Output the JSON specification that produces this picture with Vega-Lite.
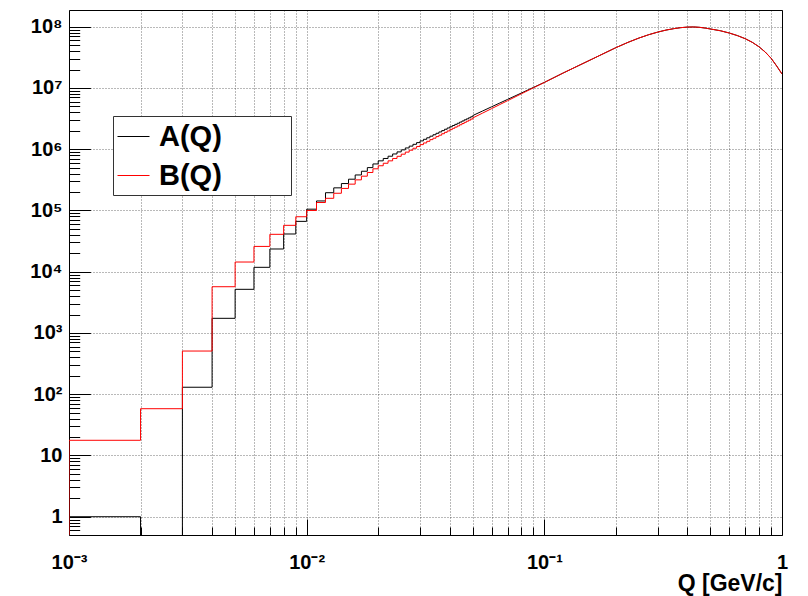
{
  "$schema": "https://vega.github.io/schema/vega-lite/v6.json",
  "width": 713,
  "height": 525,
  "autosize": {"type": "none"},
  "padding": {"left": 69, "top": 10, "right": 26, "bottom": 61},
  "background": "white",
  "config": {"view": {"stroke": "#000000", "strokeWidth": 1}, "font": "Liberation Sans"},
  "datasets": {
    "steps": [
      {"q": 0.0005, "A(Q)": 0.01, "B(Q)": 0.01},
      {"q": 0.001, "A(Q)": 1, "B(Q)": 17.7},
      {"q": 0.002, "A(Q)": 0.01, "B(Q)": 58},
      {"q": 0.003, "A(Q)": 130, "B(Q)": 507},
      {"q": 0.004, "A(Q)": 1735, "B(Q)": 5690},
      {"q": 0.005, "A(Q)": 5160, "B(Q)": 14400},
      {"q": 0.006, "A(Q)": 11800, "B(Q)": 25900},
      {"q": 0.007, "A(Q)": 23500, "B(Q)": 40800},
      {"q": 0.008, "A(Q)": 41300, "B(Q)": 57200},
      {"q": 0.009, "A(Q)": 66400, "B(Q)": 79000},
      {"q": 0.010, "A(Q)": 105000, "B(Q)": 100000},
      {"q": 0.011, "A(Q)": 143000, "B(Q)": 135000},
      {"q": 0.012, "A(Q)": 195000, "B(Q)": 158000},
      {"q": 0.013, "A(Q)": 234000, "B(Q)": 191000},
      {"q": 0.014, "A(Q)": 275000, "B(Q)": 229000},
      {"q": 0.015, "A(Q)": 324000, "B(Q)": 269000},
      {"q": 0.016, "A(Q)": 380000, "B(Q)": 316000},
      {"q": 0.017, "A(Q)": 437000, "B(Q)": 363000},
      {"q": 0.018, "A(Q)": 501000, "B(Q)": 417000},
      {"q": 0.019, "A(Q)": 575000, "B(Q)": 479000},
      {"q": 0.020, "A(Q)": 646000, "B(Q)": 537000},
      {"q": 0.021, "A(Q)": 706000, "B(Q)": 590000},
      {"q": 0.022, "A(Q)": 769000, "B(Q)": 646000},
      {"q": 0.023, "A(Q)": 837000, "B(Q)": 706000},
      {"q": 0.024, "A(Q)": 904000, "B(Q)": 766000},
      {"q": 0.025, "A(Q)": 976000, "B(Q)": 830000},
      {"q": 0.026, "A(Q)": 1049000, "B(Q)": 897000},
      {"q": 0.027, "A(Q)": 1124000, "B(Q)": 964000},
      {"q": 0.028, "A(Q)": 1202000, "B(Q)": 1037000},
      {"q": 0.029, "A(Q)": 1282000, "B(Q)": 1109000},
      {"q": 0.030, "A(Q)": 1367000, "B(Q)": 1189000},
      {"q": 0.031, "A(Q)": 1452000, "B(Q)": 1265000},
      {"q": 0.032, "A(Q)": 1538000, "B(Q)": 1346000},
      {"q": 0.033, "A(Q)": 1633000, "B(Q)": 1435000},
      {"q": 0.034, "A(Q)": 1722000, "B(Q)": 1514000},
      {"q": 0.035, "A(Q)": 1820000, "B(Q)": 1607000},
      {"q": 0.036, "A(Q)": 1914000, "B(Q)": 1694000},
      {"q": 0.037, "A(Q)": 2014000, "B(Q)": 1791000},
      {"q": 0.038, "A(Q)": 2118000, "B(Q)": 1888000},
      {"q": 0.039, "A(Q)": 2223000, "B(Q)": 1986000},
      {"q": 0.040, "A(Q)": 2328000, "B(Q)": 2089000},
      {"q": 0.041, "A(Q)": 2438000, "B(Q)": 2193000},
      {"q": 0.042, "A(Q)": 2547000, "B(Q)": 2296000},
      {"q": 0.043, "A(Q)": 2655000, "B(Q)": 2399000},
      {"q": 0.044, "A(Q)": 2773000, "B(Q)": 2512000},
      {"q": 0.045, "A(Q)": 2891000, "B(Q)": 2624000},
      {"q": 0.046, "A(Q)": 3020000, "B(Q)": 2748000},
      {"q": 0.047, "A(Q)": 3133000, "B(Q)": 2864000},
      {"q": 0.048, "A(Q)": 3258000, "B(Q)": 2979000},
      {"q": 0.049, "A(Q)": 3388000, "B(Q)": 3105000},
      {"q": 0.050, "A(Q)": 3550000, "B(Q)": 3240000}
    ],
    "smooth": [
      {"q": 0.05, "A(Q)": 3550000, "B(Q)": 3240000},
      {"q": 0.055, "A(Q)": 4210000, "B(Q)": 3890000},
      {"q": 0.06, "A(Q)": 4930000, "B(Q)": 4600000},
      {"q": 0.065, "A(Q)": 5690000, "B(Q)": 5370000},
      {"q": 0.07, "A(Q)": 6500000, "B(Q)": 6190000},
      {"q": 0.08, "A(Q)": 8260000, "B(Q)": 8020000},
      {"q": 0.09, "A(Q)": 10210000, "B(Q)": 10070000},
      {"q": 0.1, "A(Q)": 12330000, "B(Q)": 12300000},
      {"q": 0.12, "A(Q)": 17540000, "B(Q)": 17540000},
      {"q": 0.14, "A(Q)": 23390000, "B(Q)": 23390000},
      {"q": 0.16, "A(Q)": 29990000, "B(Q)": 29990000},
      {"q": 0.18, "A(Q)": 37410000, "B(Q)": 37410000},
      {"q": 0.2, "A(Q)": 45500000, "B(Q)": 45500000},
      {"q": 0.225, "A(Q)": 55600000, "B(Q)": 55600000},
      {"q": 0.25, "A(Q)": 65300000, "B(Q)": 65300000},
      {"q": 0.275, "A(Q)": 74100000, "B(Q)": 74100000},
      {"q": 0.3, "A(Q)": 81700000, "B(Q)": 81700000},
      {"q": 0.325, "A(Q)": 88100000, "B(Q)": 88100000},
      {"q": 0.35, "A(Q)": 92900000, "B(Q)": 92900000},
      {"q": 0.375, "A(Q)": 96600000, "B(Q)": 96600000},
      {"q": 0.4, "A(Q)": 98600000, "B(Q)": 98600000},
      {"q": 0.425, "A(Q)": 99100000, "B(Q)": 99100000},
      {"q": 0.45, "A(Q)": 97700000, "B(Q)": 97700000},
      {"q": 0.475, "A(Q)": 95100000, "B(Q)": 95100000},
      {"q": 0.5, "A(Q)": 91800000, "B(Q)": 91800000},
      {"q": 0.55, "A(Q)": 86000000, "B(Q)": 86000000},
      {"q": 0.6, "A(Q)": 78900000, "B(Q)": 78900000},
      {"q": 0.65, "A(Q)": 71500000, "B(Q)": 71500000},
      {"q": 0.7, "A(Q)": 63800000, "B(Q)": 63800000},
      {"q": 0.75, "A(Q)": 55600000, "B(Q)": 55600000},
      {"q": 0.8, "A(Q)": 47100000, "B(Q)": 47100000},
      {"q": 0.85, "A(Q)": 38600000, "B(Q)": 38600000},
      {"q": 0.9, "A(Q)": 30500000, "B(Q)": 30500000},
      {"q": 0.95, "A(Q)": 22800000, "B(Q)": 22800000},
      {"q": 1.0, "A(Q)": 16900000, "B(Q)": 16900000}
    ]
  },
  "encoding": {
    "x": {
      "field": "q",
      "type": "quantitative",
      "scale": {"type": "log", "domain": [0.001, 1], "nice": false},
      "axis": {
        "values": [0.001, 0.002, 0.003, 0.004, 0.005, 0.006, 0.007, 0.008, 0.009, 0.01, 0.02, 0.03, 0.04, 0.05, 0.06, 0.07, 0.08, 0.09, 0.1, 0.2, 0.3, 0.4, 0.5, 0.6, 0.7, 0.8, 0.9, 1],
        "labelExpr": "datum.value == 0.001 ? '10⁻³' : datum.value == 0.01 ? '10⁻²' : datum.value == 0.1 ? '10⁻¹' : datum.value == 1 ? '1' : ''",
        "labelFont": "Liberation Sans",
        "labelFontWeight": "bold",
        "labelFontSize": 20,
        "labelColor": "#000000",
        "labelPadding": 33,
        "labelFlush": false,
        "labelOverlap": false,
        "labelBound": false,
        "tickSize": {"condition": {"test": "datum.value == 0.001 || datum.value == 0.01 || datum.value == 0.1 || datum.value == 1", "value": -16}, "value": -8},
        "tickColor": "#000000",
        "tickWidth": 1,
        "domain": false,
        "grid": true,
        "gridColor": "#000000",
        "gridDash": [1, 2],
        "gridOpacity": 0.55,
        "title": "Q [GeV/c]",
        "titleFont": "Liberation Sans",
        "titleFontWeight": "bold",
        "titleFontSize": 23,
        "titleColor": "#000000",
        "titleAnchor": "end",
        "titleAlign": "right",
        "titleBaseline": "alphabetic",
        "titleX": 713,
        "titleY": 55
      }
    },
    "y": {
      "field": "count",
      "type": "quantitative",
      "scale": {"type": "log", "domain": [0.503, 187500000], "nice": false},
      "axis": {
        "values": [0.6, 0.7, 0.8, 0.9, 1, 2, 3, 4, 5, 6, 7, 8, 9, 10, 20, 30, 40, 50, 60, 70, 80, 90, 100, 200, 300, 400, 500, 600, 700, 800, 900, 1000, 2000, 3000, 4000, 5000, 6000, 7000, 8000, 9000, 10000, 20000, 30000, 40000, 50000, 60000, 70000, 80000, 90000, 100000, 200000, 300000, 400000, 500000, 600000, 700000, 800000, 900000, 1000000, 2000000, 3000000, 4000000, 5000000, 6000000, 7000000, 8000000, 9000000, 10000000, 20000000, 30000000, 40000000, 50000000, 60000000, 70000000, 80000000, 90000000, 100000000],
        "labelExpr": "datum.value == 1 ? '1' : datum.value == 10 ? '10' : datum.value == 100 ? '10²' : datum.value == 1000 ? '10³' : datum.value == 10000 ? '10⁴' : datum.value == 100000 ? '10⁵' : datum.value == 1000000 ? '10⁶' : datum.value == 10000000 ? '10⁷' : datum.value == 100000000 ? '10⁸' : ''",
        "labelFont": "Liberation Sans",
        "labelFontWeight": "bold",
        "labelFontSize": 20,
        "labelColor": "#000000",
        "labelPadding": 28.4,
        "labelFlush": false,
        "labelOverlap": false,
        "labelBound": false,
        "labelBaseline": "middle",
        "tickSize": {"condition": {"test": "indexof([1, 10, 100, 1000, 10000, 100000, 1000000, 10000000, 100000000], datum.value) >= 0", "value": -21.4}, "value": -10.7},
        "tickColor": "#000000",
        "tickWidth": 1,
        "domain": false,
        "grid": true,
        "gridColor": "#000000",
        "gridDash": [1, 2],
        "gridOpacity": {"condition": {"test": "indexof([1, 10, 100, 1000, 10000, 100000, 1000000, 10000000, 100000000], datum.value) >= 0", "value": 0.55}, "value": 0},
        "title": null
      }
    },
    "color": {
      "field": "hist",
      "type": "nominal",
      "scale": {"domain": ["A(Q)", "B(Q)"], "range": ["#000000", "#ff0000"]},
      "legend": {
        "orient": "none",
        "legendX": 44,
        "legendY": 106,
        "title": null,
        "symbolType": "stroke",
        "symbolSize": 1024,
        "symbolStrokeWidth": 1,
        "labelFont": "Liberation Sans",
        "labelFontWeight": "bold",
        "labelFontSize": 29,
        "labelColor": "#000000",
        "labelOffset": 9,
        "labelExpr": "datum.label + '\u00a0\u00a0\u00a0\u00a0\u00a0\u00a0\u00a0\u00a0\u200b'",
        "fillColor": "#ffffff",
        "strokeColor": "#333333",
        "padding": 4,
        "rowPadding": 7
      }
    }
  },
  "layer": [
    {
      "data": {"name": "steps"},
      "transform": [{"fold": ["A(Q)", "B(Q)"], "as": ["hist", "count"]}],
      "mark": {"type": "line", "interpolate": "step-after", "clip": true, "strokeWidth": 1}
    },
    {
      "data": {"name": "smooth"},
      "transform": [{"fold": ["A(Q)", "B(Q)"], "as": ["hist", "count"]}],
      "mark": {"type": "line", "interpolate": "linear", "clip": true, "strokeWidth": 1}
    }
  ]
}
